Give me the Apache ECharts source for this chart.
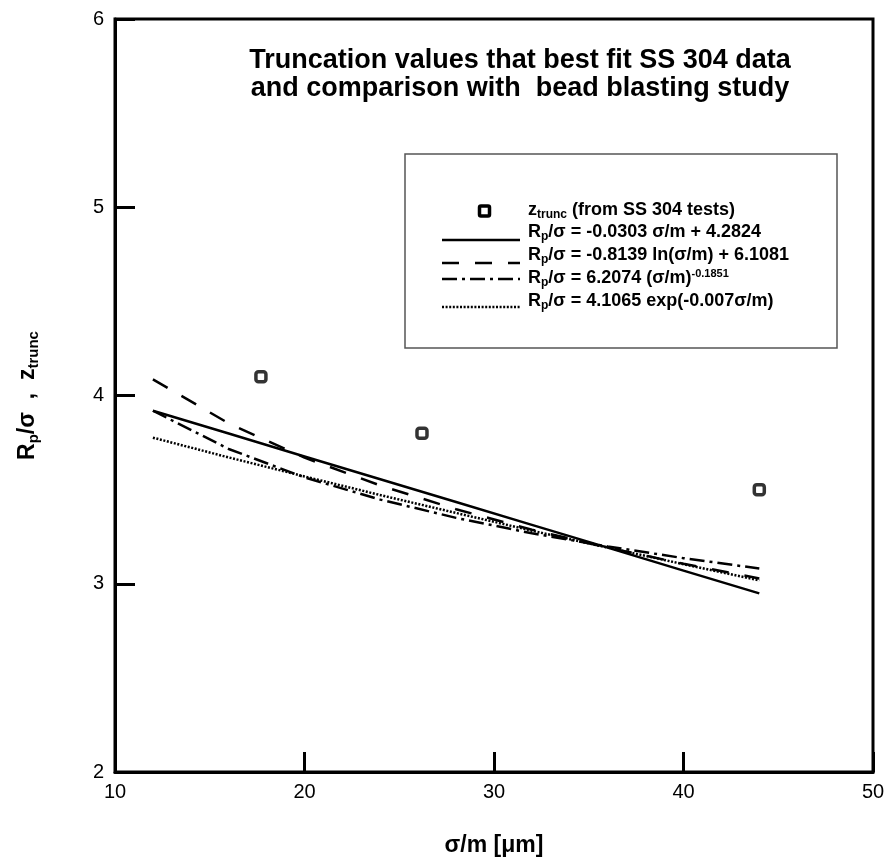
<!DOCTYPE html>
<html>
<head>
<meta charset="utf-8">
<script src="https://cdn.jsdelivr.net/npm/echarts@6/dist/echarts.min.js"></script>
<style>html,body{margin:0;padding:0;background:#fff}#c{width:889px;height:859px}</style>
</head>
<body>
<div id="c"></div>
<script>
// measured points (z_trunc from SS 304 tests)
var pointX = [17.7, 26.2, 44.0];
var pointY = [4.10, 3.80, 3.50];
// fit curves sampled at these sigma/m values
var fitX = [12, 16, 20, 24, 28, 32, 36, 40, 44];
var linearY = [3.919, 3.798, 3.676, 3.555, 3.434, 3.313, 3.192, 3.070, 2.949];
var logY    = [4.086, 3.852, 3.670, 3.522, 3.396, 3.287, 3.192, 3.106, 3.028];
var powerY  = [3.919, 3.716, 3.565, 3.447, 3.350, 3.268, 3.198, 3.136, 3.081];
var expY    = [3.776, 3.671, 3.570, 3.471, 3.376, 3.282, 3.192, 3.104, 3.018];
var xTicks = [10, 20, 30, 40, 50];
var yTicks = [2, 3, 4, 5, 6];

function pairs(xs, ys){ return xs.map(function(x,i){ return [x, ys[i]]; }); }

var FONT = '"Liberation Sans", Arial, sans-serif';
var DASH = [17,16], DASHDOT = [15,5,3,5], DOT = [2,1.6];
var chart = echarts.init(document.getElementById('c'), null, {renderer:'canvas'});

function lineSeries(name, ys, dash){
  return {type:'line', showSymbol:false, symbol:'none', silent:true, z:3,
    name:name, data:pairs(fitX, ys),
    lineStyle:{color:'#000', width:2.5, type:dash, cap:'butt'}};
}

var legX0 = 442, legX1 = 520, legTx = 528;
function legText(y, text){
  return {type:'text', left:legTx, top:y, z:10, style:{
    text:text, fill:'#000', font:'bold 18px '+FONT,
    rich:{
      b:{fontSize:18, fontWeight:'bold', fontFamily:FONT, fill:'#000', lineHeight:20},
      sub:{fontSize:12, fontWeight:'bold', fontFamily:FONT, fill:'#000', lineHeight:20, padding:[9,0,0,0]},
      sup:{fontSize:11, fontWeight:'bold', fontFamily:FONT, fill:'#000', lineHeight:20, padding:[0,0,10,0]}
    }}};
}
function legLine(y, dash){
  return {type:'line', z:10, shape:{x1:legX0, y1:y, x2:legX1, y2:y},
    style:{stroke:'#000', lineWidth:2.5, lineDash:dash, lineCap:'butt'}};
}

chart.setOption({
  animation:false,
  backgroundColor:'#fff',
  title:{
    text:'Truncation values that best fit SS 304 data\nand comparison with  bead blasting study',
    left:515, top:42, textAlign:'center',
    textStyle:{fontFamily:FONT, fontWeight:'bold', fontSize:27, lineHeight:28, color:'#000'}
  },
  grid:{left:115, right:16, top:19, bottom:87, containLabel:false, outerBoundsMode:'none',
    show:true, borderColor:'#000', borderWidth:3, backgroundColor:'transparent'},
  xAxis:{
    type:'value', min:xTicks[0], max:xTicks[xTicks.length-1], interval:10,
    name:'σ/m [μm]', nameLocation:'middle', nameGap:62,
    nameTextStyle:{fontFamily:FONT, fontWeight:'bold', fontSize:23, color:'#000'},
    axisLine:{show:true, lineStyle:{color:'#000', width:3}},
    axisTick:{show:true, inside:true, length:20, lineStyle:{color:'#000', width:3}},
    axisLabel:{fontFamily:FONT, fontSize:20, color:'#000', margin:10},
    splitLine:{show:false}
  },
  yAxis:{
    type:'value', min:yTicks[0], max:yTicks[yTicks.length-1], interval:1,
    name:'{b|R}{sub|p}{b|/σ  ,  z}{sub|trunc}', nameLocation:'middle', nameGap:74, nameRotate:90,
    nameTextStyle:{fontFamily:FONT, fontWeight:'bold', fontSize:23, color:'#000',
      rich:{
        b:{fontFamily:FONT, fontWeight:'bold', fontSize:23, color:'#000', lineHeight:26},
        sub:{fontFamily:FONT, fontWeight:'bold', fontSize:15, color:'#000', lineHeight:26, padding:[12,0,0,0]}
      }},
    axisLine:{show:true, lineStyle:{color:'#000', width:3}},
    axisTick:{show:true, inside:true, length:20, lineStyle:{color:'#000', width:3}},
    axisLabel:{fontFamily:FONT, fontSize:20, color:'#000', margin:11},
    splitLine:{show:false}
  },
  series:[
    {type:'scatter', name:'z_trunc', data:pairs(pointX, pointY), symbol:'roundRect', symbolSize:10,
      itemStyle:{color:'#fff', borderColor:'#000', borderWidth:3.5}, z:5},
    lineSeries('linear', linearY, 'solid'),
    lineSeries('log', logY, DASH),
    lineSeries('power', powerY, DASHDOT),
    lineSeries('exp', expY, DOT)
  ],
  graphic:[
    {type:'rect', z:9, shape:{x:405, y:154, width:432, height:194},
      style:{fill:'#fff', stroke:'#555', lineWidth:1.5}},
    {type:'rect', z:10, shape:{x:479.5, y:206, width:10, height:10, r:1.5},
      style:{fill:'#fff', stroke:'#000', lineWidth:3.5}},
    legText(200, '{b|z}{sub|trunc}{b| (from SS 304 tests)}'),
    legLine(240, null),
    legText(222, '{b|R}{sub|p}{b|/σ = -0.0303 σ/m + 4.2824}'),
    legLine(263, DASH),
    legText(245, '{b|R}{sub|p}{b|/σ = -0.8139 ln(σ/m) + 6.1081}'),
    legLine(279, DASHDOT),
    legText(268, '{b|R}{sub|p}{b|/σ = 6.2074 (σ/m)}{sup|-0.1851}'),
    legLine(307, DOT),
    legText(291, '{b|R}{sub|p}{b|/σ = 4.1065 exp(-0.007σ/m)}')
  ]
});
</script>
</body>
</html>
